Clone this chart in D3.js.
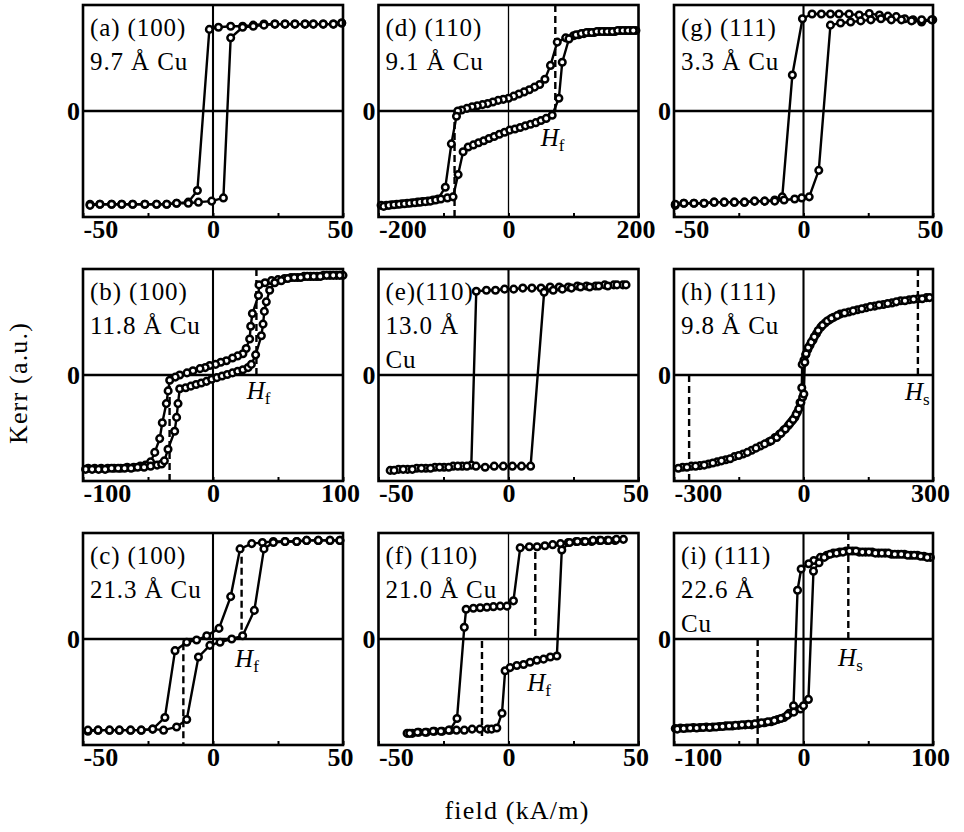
<!DOCTYPE html>
<html>
<head>
<meta charset="utf-8">
<script src="https://cdn.jsdelivr.net/npm/d3@7"></script>
<style>
body{margin:0;background:#fff}
</style>
</head>
<body>
<script>
var aDown=[[49.5,.83],[46.3,.82],[42.4,.82],[38.6,.82],[35.4,.82],[31.5,.82],[27.7,.82],[23.8,.82],[19.6,.82],[15.5,.81],[11.4,.8],[6.8,.8],[2.1,.79],[-1.4,.77],[-6,-.75],[-9.5,-.86],[-14,-.87],[-17.8,-.88],[-21.7,-.88],[-26.2,-.88],[-30.9,-.88],[-35.1,-.88],[-39,-.88],[-43.5,-.88],[-47.3,-.88]]
var aUp=[[-47.3,-.89],[-43.5,-.88],[-39,-.88],[-35.1,-.88],[-30.9,-.88],[-26.2,-.88],[-21.7,-.88],[-17.8,-.88],[-14,-.87],[-9.5,-.87],[-5.6,-.86],[-.5,-.85],[4,-.82],[6.8,.69],[11.4,.79],[15.5,.8],[19.6,.81],[23.8,.82],[27.7,.82],[31.5,.82],[35.4,.82],[38.6,.82],[42.4,.82],[46.3,.82],[49.5,.83]]
var bDown=[[100,.94],[95,.94],[90,.94],[85,.94],[80,.93],[75,.93],[70,.93],[65,.92],[60,.92],[55,.91],[50,.9],[45,.89],[40,.87],[35.4,.85],[35,.75],[30.3,.58],[29,.46],[28.2,.34],[25.5,.25],[23,.2],[19,.18],[15,.16],[10.3,.135],[6,.12],[2,.1],[-2.5,.09],[-6,.07],[-10,.06],[-15.4,.04],[-20,.02],[-25.6,0],[-29,-.02],[-33.3,-.05],[-34.5,-.15],[-35.9,-.27],[-39,-.45],[-41,-.6],[-44.8,-.73],[-48,-.82],[-52,-.85],[-56,-.86],[-61,-.87],[-66,-.87],[-71,-.88],[-76,-.88],[-81,-.88],[-86,-.88],[-91,-.88],[-96,-.88]]
var bUp=[[-98,-.89],[-93,-.89],[-88,-.89],[-83,-.89],[-78,-.88],[-73,-.88],[-68,-.88],[-63,-.88],[-58,-.87],[-53,-.87],[-48,-.86],[-43,-.85],[-39.5,-.84],[-37.4,-.81],[-34.6,-.7],[-29.5,-.53],[-28,-.4],[-26.9,-.27],[-25.6,-.13],[-21,-.12],[-17,-.105],[-13,-.09],[-9,-.075],[-5,-.06],[-1,-.04],[3,-.025],[7,-.01],[11,.005],[15,.02],[19,.035],[23,.05],[27,.07],[29.5,.1],[32.8,.19],[37.2,.37],[38.5,.48],[39.5,.6],[41,.69],[43.6,.8],[47.5,.87],[52.5,.89],[57.5,.91],[62.5,.92],[67.5,.92],[72.5,.93],[77.5,.93],[82.5,.93],[87.5,.94],[92.5,.94],[97.5,.94]]
var cDown=[[48.8,.93],[45,.93],[40.5,.93],[36,.93],[32.2,.92],[27.7,.92],[23.2,.92],[19,.91],[14.9,.9],[10.4,.85],[6.8,.4],[2.3,.1],[-2.4,.03],[-6.3,-.01],[-10.1,-.03],[-14.6,-.11],[-18.5,-.74],[-23.2,-.85],[-27.6,-.86],[-31.7,-.86],[-36,-.86],[-39.8,-.86],[-44.2,-.86],[-48.1,-.87]]
var cUp=[[-48.1,-.86],[-44.2,-.86],[-39.8,-.86],[-36,-.86],[-31.7,-.86],[-27.6,-.86],[-23.2,-.85],[-19,-.86],[-14,-.83],[-10.1,-.76],[-5.6,-.17],[-1.2,-.06],[2.7,-.03],[7.2,0],[11.4,.03],[15.9,.27],[19.6,.85],[23.2,.91],[27.7,.92],[32.2,.92],[36,.93],[40.5,.93],[45,.93],[48.8,.93]]
var dDown=[[196,.76],[188,.76],[180,.76],[172,.76],[164,.75],[156,.75],[148,.75],[140,.75],[132,.74],[124,.74],[116,.73],[108,.72],[100,.71],[88,.69],[75,.65],[64.6,.43],[56,.3],[48,.25],[40,.225],[32,.2],[24,.18],[16,.16],[8,.14],[0,.12],[-8,.11],[-16,.1],[-24,.085],[-32,.07],[-40,.06],[-48,.05],[-56,.04],[-64,.025],[-72,.01],[-78,0],[-80,-.05],[-87.9,-.31],[-97.2,-.72],[-108.5,-.83],[-116,-.84],[-124,-.85],[-132,-.855],[-140,-.86],[-148,-.865],[-156,-.87],[-164,-.875],[-172,-.88],[-180,-.885],[-188,-.89],[-196,-.89]]
var dUp=[[-192,-.9],[-184,-.89],[-176,-.885],[-168,-.88],[-160,-.875],[-152,-.87],[-144,-.865],[-136,-.86],[-128,-.855],[-120,-.85],[-112,-.84],[-104,-.83],[-94,-.82],[-85.3,-.81],[-77.5,-.6],[-69.8,-.385],[-62,-.34],[-54,-.32],[-46,-.3],[-38,-.28],[-30,-.26],[-22,-.24],[-14,-.22],[-6,-.2],[2,-.18],[10,-.17],[18,-.155],[26,-.14],[34,-.125],[42,-.11],[50,-.09],[58,-.07],[67.2,-.04],[77.5,.12],[82.7,.46],[93,.68],[104,.72],[112,.73],[120,.74],[128,.74],[136,.75],[144,.75],[152,.75],[160,.75],[168,.76],[176,.76],[184,.76],[192,.76]]
var eDown=[[44,.85],[40.5,.85],[37,.85],[33.5,.84],[30,.84],[26.5,.84],[23,.83],[19.5,.83],[16,.83],[12.5,.82],[9,.82],[5.5,.82],[2,.81],[-1.5,.81],[-5,.8],[-8.5,.8],[-12.4,.79],[-14.3,-.85],[-17.8,-.86],[-21.3,-.86],[-24.8,-.87],[-28.3,-.87],[-31.8,-.88],[-35.3,-.88],[-38.8,-.89],[-42.3,-.89],[-45.5,-.9]]
var eUp=[[-44,-.9],[-40.5,-.89],[-37,-.89],[-33.5,-.88],[-30,-.88],[-26.5,-.87],[-23,-.87],[-19.5,-.86],[-16,-.86],[-12.5,-.86],[-9,-.87],[-5.5,-.86],[-2,-.86],[1.5,-.86],[5,-.86],[8.5,-.86],[13.7,.78],[17.2,.8],[20.7,.81],[24.2,.82],[27.7,.83],[31.2,.83],[34.7,.84],[38.2,.84],[41.7,.85],[45.2,.85]]
var fDown=[[44.2,.94],[41,.93],[38,.93],[35,.93],[32,.92],[29,.92],[26,.92],[23,.91],[20,.9],[17,.89],[14,.88],[11,.87],[8,.87],[4.5,.86],[1.9,.36],[-.6,.31],[-3.2,.31],[-5.8,.305],[-8.3,.3],[-10.9,.295],[-13.5,.29],[-16.3,.28],[-17,.11],[-19.8,-.75],[-22.5,-.86],[-25.5,-.87],[-28.5,-.87],[-31.5,-.88],[-34.5,-.88],[-37,-.89],[-39,-.89]]
var fUp=[[-38,-.89],[-35,-.88],[-32,-.88],[-29,-.87],[-26,-.87],[-23,-.86],[-20,-.86],[-17,-.86],[-14,-.85],[-11,-.85],[-8,-.85],[-6.5,-.85],[-4.5,-.84],[-2.5,-.7],[-1.3,-.3],[.6,-.27],[3.2,-.25],[5.8,-.24],[8.3,-.22],[10.9,-.2],[13.5,-.19],[16.1,-.17],[18.6,-.16],[20.5,.84],[23.5,.91],[26.5,.92],[29.5,.92],[32.5,.93],[35.5,.93],[38.5,.93],[41.5,.94]]
var gDown=[[49.9,.86],[45.6,.84],[42.3,.86],[39.1,.87],[35.8,.89],[32.6,.895],[29.3,.905],[25.4,.92],[21.5,.905],[17.6,.915],[13.7,.915],[10.4,.915],[6.9,.915],[3.3,.915],[-.4,.87],[-4.3,.34],[-8.2,-.81],[-11.1,-.84],[-15,-.85],[-18.9,-.85],[-22.8,-.86],[-26.7,-.86],[-30.6,-.86],[-34.5,-.86],[-38.4,-.87],[-42.3,-.87],[-46.2,-.87],[-49.5,-.89]]
var gUp=[[-49.5,-.88],[-46.2,-.87],[-42.3,-.87],[-38.4,-.87],[-34.5,-.86],[-30.6,-.86],[-26.7,-.86],[-22.8,-.86],[-18.9,-.85],[-15,-.85],[-11.1,-.85],[-7.5,-.84],[-3.4,-.83],[-.7,-.82],[2.2,-.81],[5.9,-.56],[10.4,.81],[14.3,.83],[18.2,.84],[22.1,.85],[26,.86],[29.9,.87],[33.9,.86],[37.8,.86],[41.7,.85],[45.6,.86],[49.5,.86]]
var hDown=[[285,.73],[265,.72],[245,.71],[225,.7],[205,.68],[185,.665],[165,.65],[145,.635],[125,.615],[105,.595],[85,.575],[70,.545],[60,.52],[50,.49],[40,.45],[30,.39],[22,.33],[15,.28],[10,.24],[5,.19],[1,.14],[-3,.1],[-4,-.12],[-8,-.26],[-14,-.35],[-20,-.4],[-28,-.44],[-36,-.48],[-46,-.52],[-56,-.56],[-66,-.59],[-80,-.63],[-100,-.67],[-120,-.71],[-140,-.745],[-160,-.77],[-180,-.8],[-200,-.82],[-220,-.84],[-240,-.855],[-260,-.86],[-280,-.87]]
var hUp=[[-290,-.88],[-270,-.87],[-250,-.86],[-230,-.85],[-210,-.83],[-190,-.81],[-170,-.79],[-150,-.76],[-130,-.73],[-110,-.69],[-90,-.65],[-75,-.62],[-62,-.59],[-52,-.55],[-42,-.51],[-32,-.46],[-24,-.42],[-17,-.37],[-11,-.32],[-6,-.26],[-2,-.21],[.8,-.18],[3,.12],[6,.2],[11,.26],[18,.31],[25,.36],[34,.42],[44,.47],[55,.51],[65,.535],[78,.56],[95,.585],[115,.605],[135,.625],[155,.645],[175,.66],[195,.675],[215,.69],[235,.7],[255,.715],[275,.72],[292,.73]]
var iDown=[[98,.77],[93,.78],[88,.79],[83,.79],[78,.8],[73,.8],[68,.8],[63,.81],[58,.81],[53,.82],[48,.82],[43,.82],[38,.83],[33,.83],[28,.82],[23,.81],[18,.79],[13,.77],[8,.74],[4,.71],[-1.8,.66],[-4.6,.46],[-7.7,-.63],[-11,-.7],[-15,-.74],[-20,-.76],[-25,-.78],[-30,-.79],[-35,-.8],[-40,-.81],[-45,-.81],[-50,-.815],[-55,-.82],[-60,-.82],[-65,-.825],[-70,-.83],[-75,-.83],[-80,-.835],[-85,-.835],[-90,-.84],[-95,-.84],[-99,-.845]]
var iUp=[[-97.5,-.85],[-92.5,-.845],[-87.5,-.84],[-82.5,-.84],[-77.5,-.835],[-72.5,-.835],[-67.5,-.83],[-62.5,-.825],[-57.5,-.82],[-52.5,-.815],[-47.5,-.81],[-42.5,-.805],[-37.5,-.8],[-32.5,-.79],[-27.5,-.78],[-22.5,-.77],[-17.5,-.75],[-12.5,-.72],[-7.5,-.69],[-2.3,-.66],[0,-.63],[3.8,-.57],[7.7,.64],[12,.72],[16,.77],[20.5,.8],[25.5,.81],[30.5,.82],[35.5,.83],[40.5,.83],[45.5,.82],[50.5,.82],[55.5,.81],[60.5,.81],[65.5,.81],[70.5,.8],[75.5,.8],[80.5,.79],[85.5,.79],[90.5,.78],[95.5,.77]]

// dashed markers [field, from Kerr, to Kerr]
var aDash=[],bDash=[[33.4,1,0],[-33.4,0,-1]],cDash=[[11,.88,0],[-11.4,-.04,-1]]
var dDash=[[72,1,0],[-83,0,-1]],eDash=[],fDash=[[10.3,.82,0],[-10.2,-.02,-.93]]
var gDash=[],hDash=[[265,1,0],[-265,0,-1]],iDash=[[34.6,1,0],[-35.4,0,-1]]
// H_f / H_s labels [field, Kerr, subscript]
var aH=null,bH=[26,-.23,"f"],cH=[8.5,-.26,"f"],dH=[49.6,-.33,"f"],eH=null,fH=[7.2,-.49,"f"]
var gH=null,hH=[235,-.24,"s"],iH=[26.7,-.25,"s"]

var titles=["(a) (100)","(b) (100)","(c) (100)","(d) (110)","(e)(110)","(f) (110)","(g) (111)","(h) (111)","(i) (111)"]
var thickness=[["9.7 Å Cu"],["11.8 Å Cu"],["21.3 Å Cu"],["9.1 Å Cu"],["13.0 Å","Cu"],["21.0 Å Cu"],["3.3 Å Cu"],["9.8 Å Cu"],["22.6 Å","Cu"]]
var fieldMax=[50,100,50,200,50,50,50,300,100]
var downs=[aDown,bDown,cDown,dDown,eDown,fDown,gDown,hDown,iDown]
var ups=[aUp,bUp,cUp,dUp,eUp,fUp,gUp,hUp,iUp]
var dashes=[aDash,bDash,cDash,dDash,eDash,fDash,gDash,hDash,iDash]
var hLabels=[aH,bH,cH,dH,eH,fH,gH,hH,iH]

var serif="Liberation Serif"

var svg=d3.select("body").append("svg")
          .attr("width",964)
          .attr("height",832)
          .style("display","block")
          .style("background","#fff")

///////////////////////////////////////////////////////////////////
var drawPanel=function(k){
  var col=Math.floor(k/3),row=k%3
  var left=83+col*295.5,top=5+row*264
  var w=col==2?259:260,h=212
  var max=fieldMax[k]
  var x=d3.scaleLinear().domain([-max,max]).range([left,left+w])
  var y=d3.scaleLinear().domain([-1,1]).range([top+h,top])
  var g=svg.append("g")

  // zero lines
  g.append("line").attr("x1",left).attr("x2",left+w).attr("y1",y(0)).attr("y2",y(0))
   .attr("stroke","#000").attr("stroke-width",2.3)
  g.append("line").attr("x1",x(0)).attr("x2",x(0)).attr("y1",top).attr("y2",top+h)
   .attr("stroke","#000").attr("stroke-width",(k==3||k==5)?1.3:2.1)

  g.selectAll(".dash").data(dashes[k]).enter().append("line")
   .attr("x1",function(d){return x(d[0])}).attr("x2",function(d){return x(d[0])})
   .attr("y1",function(d){return y(d[1])}).attr("y2",function(d){return y(d[2])})
   .attr("stroke","#000").attr("stroke-width",2.4).attr("stroke-dasharray","7,4")

  var line=d3.line().x(function(d){return x(d[0])}).y(function(d){return y(d[1])})
  var branches=[downs[k],ups[k]]
  g.selectAll(".branch").data(branches).enter().append("path")
   .attr("d",line).attr("fill","none").attr("stroke","#000").attr("stroke-width",2.4)
  branches.forEach(function(b){
    g.append("g").selectAll("circle").data(b).enter().append("circle")
     .attr("cx",function(d){return x(d[0])})
     .attr("cy",function(d){return y(d[1])})
     .attr("r",3.3)
     .attr("fill","#fff").attr("stroke","#000").attr("stroke-width",2.5)
  })

  g.append("rect").attr("x",left).attr("y",top).attr("width",w).attr("height",h)
   .attr("fill","none").attr("stroke","#000").attr("stroke-width",2.6)

  // bottom axis with the small inner ticks at half range
  var axis=d3.axisBottom(x).tickValues([-max,-max/2,0,max/2,max]).tickSize(-4).tickPadding(3)
             .tickFormat(function(d){return Math.abs(d)==max/2?"":String(d)})
  var ax=g.append("g").attr("transform","translate(0,"+(top+h)+")").call(axis)
  ax.select(".domain").remove()
  ax.selectAll("line").attr("stroke-width",2)
  ax.selectAll("text").attr("font-family",serif).attr("font-weight","bold").attr("font-size",26).attr("fill","#000")
  ax.selectAll("text").filter(function(d){return d==-max}).attr("text-anchor","start").attr("x",0)
  ax.selectAll("text").filter(function(d){return d==max}).attr("x",-3)

  g.append("text").attr("x",left-3).attr("y",y(0)+9).attr("text-anchor","end")
   .attr("font-family",serif).attr("font-weight","bold").attr("font-size",26).text("0")

  var lab=[titles[k]].concat(thickness[k])
  g.selectAll(".lab").data(lab).enter().append("text")
   .attr("x",left+7).attr("y",function(d,i){return top+31+i*34})
   .attr("font-family",serif).attr("font-size",25).attr("letter-spacing",0.9)
   .text(function(d){return d})

  if(hLabels[k]){
    var t=g.append("text").attr("x",x(hLabels[k][0])).attr("y",y(hLabels[k][1]))
           .attr("font-family",serif).attr("font-size",25)
    t.append("tspan").attr("font-style","italic").text("H")
    t.append("tspan").attr("dy",5).attr("font-size",17).text(hLabels[k][2])
  }
}
///////////////////////////////////////////////////////////////////
for(var k=0;k<9;k++){drawPanel(k)}

svg.append("text").attr("transform","translate(27,383) rotate(-90)").attr("text-anchor","middle")
   .attr("font-family",serif).attr("font-size",26).attr("letter-spacing",1.2).text("Kerr (a.u.)")
svg.append("text").attr("x",517).attr("y",819).attr("text-anchor","middle")
   .attr("font-family",serif).attr("font-size",26).attr("letter-spacing",1.2).text("field (kA/m)")
</script>
</body>
</html>
